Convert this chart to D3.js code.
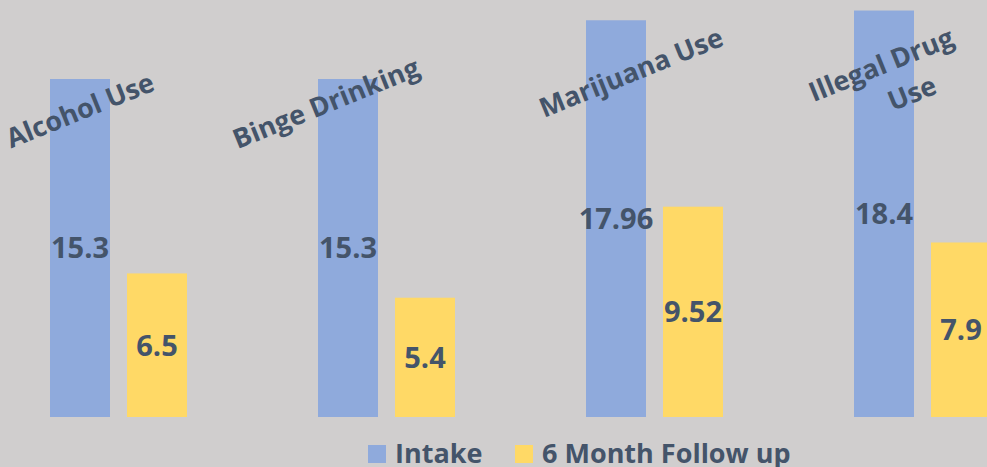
<!DOCTYPE html>
<html lang="en">
<head>
<meta charset="UTF-8">
<title>Substance Use: Intake vs 6 Month Follow up</title>
<script src="https://d3js.org/d3.v7.min.js"></script>
<style>
    body { margin: 0; background-color: #d0cece; font-family: "Open Sans", sans-serif; overflow: hidden; }
    .lbl { fill: #44546a; font-weight: bold; font-size: 27px; }
    .val { font-size: 29px; }
</style>
</head>
<body>
<div id="chart"></div>
<script>
    // data
    var categories = ["Alcohol Use", "Binge Drinking", "Marijuana Use", "Illegal Drug Use"];
    var intake = [15.3, 15.3, 17.96, 18.4];
    var followUp = [6.5, 5.4, 9.52, 7.9];
    var seriesNames = ["Intake", "6 Month Follow up"];
    var colors = ["#8faadc", "#ffd966"];

    var width = 987, height = 467;
    var baseline = 417;

    var svg = d3.select("#chart").append("svg")
        .attr("width", width)
        .attr("height", height);

    var x = d3.scaleBand().domain(categories).range([-15.5, 1056.5]);
    var x1 = d3.scaleBand().domain(seriesNames).range([0, x.bandwidth()])
        .paddingInner(0.2208).paddingOuter(0.8506);
    var y = d3.scaleLinear().domain([0, 20]).range([baseline, baseline - 441.8]);

    var rows = categories.map(function(c, i) {
        return {cat: c, values: [intake[i], followUp[i]]};
    });

    var groups = svg.selectAll("g.grp").data(rows).enter().append("g")
        .attr("class", "grp")
        .attr("transform", function(d) { return "translate(" + x(d.cat) + ",0)"; });

    groups.selectAll("rect").data(function(d) {
        return d.values.map(function(v, j) { return {s: seriesNames[j], v: v, j: j}; });
    }).enter().append("rect")
        .attr("x", function(d) { return x1(d.s); })
        .attr("y", function(d) { return y(d.v); })
        .attr("width", x1.bandwidth())
        .attr("height", function(d) { return baseline - y(d.v); })
        .attr("fill", function(d) { return colors[d.j]; });

    // value labels in the middle of each bar
    groups.selectAll("text.val").data(function(d) {
        return d.values.map(function(v, j) { return {s: seriesNames[j], v: v}; });
    }).enter().append("text")
        .attr("class", "lbl val")
        .attr("text-anchor", "middle")
        .attr("x", function(d) { return x1(d.s) + x1.bandwidth() / 2; })
        .attr("y", function(d) { return (y(d.v) + baseline) / 2; })
        .attr("dy", "0.36em")
        .text(function(d) { return d.v; });

    // rotated category labels (offsets from top of intake bar, hand placed)
    var labelOffsets = [[0, 31], [-22, 24], [15, 52], [-3, 54]];
    var labelLines = [["Alcohol Use"], ["Binge Drinking"], ["Marijuana Use"], ["Illegal Drug", "Use"]];
    groups.each(function(d, i) {
        var cx = x1(seriesNames[0]) + x1.bandwidth() / 2 + labelOffsets[i][0];
        var cy = y(d.values[0]) + labelOffsets[i][1];
        var t = d3.select(this).append("text")
            .attr("class", "lbl")
            .attr("text-anchor", "middle")
            .attr("transform", "translate(" + cx + "," + cy + ") rotate(-22)");
        labelLines[i].forEach(function(line, k) {
            t.append("tspan")
                .attr("x", k * 18)
                .attr("y", k * 38)
                .attr("dy", "0.36em")
                .text(line);
        });
    });

    // legend
    var legend = svg.append("g");
    var legX = [368, 515];
    seriesNames.forEach(function(s, i) {
        legend.append("rect")
            .attr("x", legX[i]).attr("y", 445)
            .attr("width", 18).attr("height", 18)
            .attr("fill", colors[i]);
        legend.append("text")
            .attr("class", "lbl")
            .attr("x", legX[i] + 27).attr("y", 463)
            .text(s);
    });
</script>
</body>
</html>
